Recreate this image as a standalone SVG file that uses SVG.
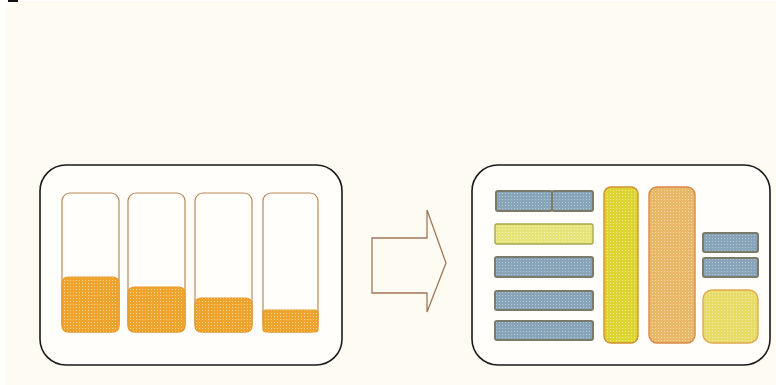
<svg xmlns="http://www.w3.org/2000/svg" width="776" height="385" viewBox="0 0 776 385">
<defs>
<style>
.frame{fill:#fffefb;stroke:#1a1a1a;stroke-width:1.6}
.tube{fill:#fffefb;stroke:#b88a58;stroke-width:1.2}
.fillo{fill:url(#pOrange);stroke:#e89a28;stroke-width:1.2}
.blue{fill:url(#pBlue);stroke:#7a7a68;stroke-width:2}
.ylw{fill:url(#pYel);stroke:#a8a850;stroke-width:1.4}
.tallY{fill:url(#pYel2);stroke:#d09030;stroke-width:1.4}
.tallO{fill:url(#pOr2);stroke:#d88848;stroke-width:1.4}
.sq{fill:url(#pYel3);stroke:#e0a850;stroke-width:1.4}
.arrow{fill:none;stroke:#a07858;stroke-width:1.3}
</style>
<pattern id="pOrange" width="3" height="3" patternUnits="userSpaceOnUse"><rect width="3" height="3" fill="#eea32c"/><rect x="1" y="1" width="1" height="1" fill="#f8d890"/></pattern>
<pattern id="pBlue" width="3" height="3" patternUnits="userSpaceOnUse"><rect width="3" height="3" fill="#88a4b8"/><rect x="1" y="1" width="1" height="1" fill="#b4c6d4"/></pattern>
<pattern id="pYel" width="3" height="3" patternUnits="userSpaceOnUse"><rect width="3" height="3" fill="#e4e47a"/><rect x="1" y="1" width="1" height="1" fill="#f4f4b0"/></pattern>
<pattern id="pYel2" width="3" height="3" patternUnits="userSpaceOnUse"><rect width="3" height="3" fill="#dcd430"/><rect x="1" y="1" width="1" height="1" fill="#f0ec90"/></pattern>
<pattern id="pOr2" width="3" height="3" patternUnits="userSpaceOnUse"><rect width="3" height="3" fill="#e8b868"/><rect x="1" y="1" width="1" height="1" fill="#f4dca8"/></pattern>
<pattern id="pYel3" width="3" height="3" patternUnits="userSpaceOnUse"><rect width="3" height="3" fill="#e8dc68"/><rect x="1" y="1" width="1" height="1" fill="#f4eca8"/></pattern>
</defs>
<rect width="776" height="385" fill="#ffffff"/>
<rect x="5" y="1" width="771" height="384" fill="#fefbf2"/>
<rect x="8" y="0" width="10" height="2" fill="#111111"/>

<g id="left-box">
<rect class="frame" x="40" y="165" width="302" height="200" rx="26"/>
</g>
<g id="tube1">
<rect class="tube" x="62" y="193" width="57" height="139" rx="8"/>
<rect class="fillo" x="62" y="277" width="57" height="55" rx="6"/>
</g>
<g id="tube2">
<rect class="tube" x="128" y="193" width="57" height="139" rx="8"/>
<rect class="fillo" x="128" y="287" width="57" height="45" rx="6"/>
</g>
<g id="tube3">
<rect class="tube" x="195" y="193" width="57" height="139" rx="8"/>
<rect class="fillo" x="195" y="298" width="57" height="34" rx="6"/>
</g>
<g id="tube4">
<rect class="tube" x="263" y="193" width="55" height="139" rx="8"/>
<rect class="fillo" x="263" y="310" width="55" height="22" rx="3"/>
</g>

<g id="connectors">
<path class="arrow" d="M372,238 H427 V210 L446,263 L427,312 V293 H372 Z"/>
</g>

<g id="right-box">
<rect class="frame" x="472" y="165" width="298" height="200" rx="26"/>
</g>
<g id="bar1">
<rect class="blue" x="496" y="191" width="56" height="20" rx="2"/>
<rect class="blue" x="552" y="191" width="41" height="20" rx="2"/>
</g>
<g id="bar2"><rect class="ylw" x="495" y="224" width="98" height="20" rx="2"/></g>
<g id="bar3"><rect class="blue" x="495" y="257" width="98" height="20" rx="2"/></g>
<g id="bar4"><rect class="blue" x="495" y="291" width="98" height="19" rx="2"/></g>
<g id="bar5"><rect class="blue" x="495" y="321" width="98" height="19" rx="2"/></g>
<g id="tall-yellow"><rect class="tallY" x="604" y="187" width="34" height="156" rx="7"/></g>
<g id="tall-orange"><rect class="tallO" x="649" y="187" width="46" height="156" rx="8"/></g>
<g id="small-bar1"><rect class="blue" x="703" y="233" width="55" height="19" rx="2"/></g>
<g id="small-bar2"><rect class="blue" x="703" y="258" width="55" height="19" rx="2"/></g>
<g id="square"><rect class="sq" x="703" y="290" width="55" height="53" rx="9"/></g>
</svg>
